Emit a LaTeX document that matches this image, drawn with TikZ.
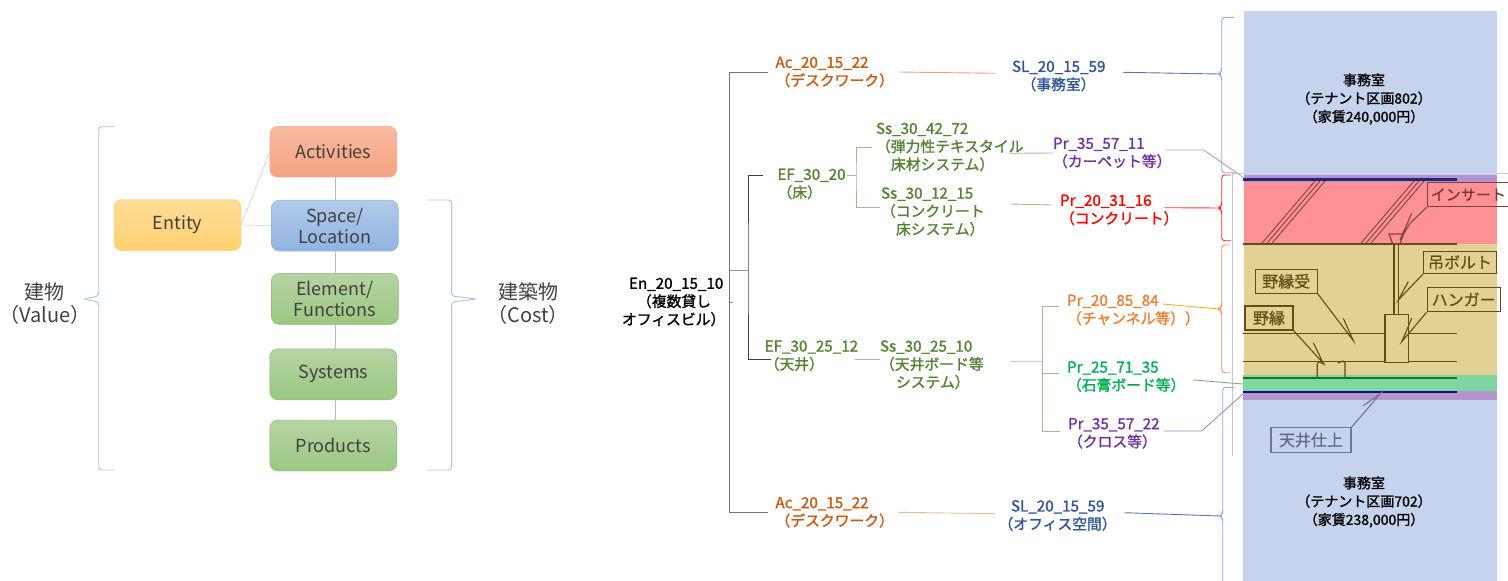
\documentclass[tikz,border=0pt]{standalone}
\usepackage{fontspec}
\setmainfont{Noto Sans CJK JP}
\newfontfamily\treefont[FakeBold=1.4]{Noto Sans CJK JP}
\newfontfamily\planfont[FakeBold=0.6]{Noto Sans CJK JP}
\usepackage{tikz}
\definecolor{acC}{HTML}{C55A11}
\definecolor{slC}{HTML}{2F5597}
\definecolor{efC}{HTML}{548235}
\definecolor{prP}{HTML}{7030A0}
\definecolor{prO}{HTML}{ED7D31}
\definecolor{prG}{HTML}{00B050}
\definecolor{planC}{HTML}{5F4E18}
\definecolor{redTop}{HTML}{F8BBA2}
\definecolor{redBot}{HTML}{F5A27F}
\definecolor{yelTop}{HTML}{FFDB96}
\definecolor{yelBot}{HTML}{FFD270}
\definecolor{bluTop}{HTML}{B1C9E9}
\definecolor{bluBot}{HTML}{8FB4E0}
\definecolor{grnTop}{HTML}{B5D4A3}
\definecolor{grnBot}{HTML}{9BC882}
\definecolor{braceC}{HTML}{ABC0DE}
\definecolor{joinC}{HTML}{A9C0DC}
\definecolor{tipC}{HTML}{8FAADC}
\newcommand{\idt}[1]{{\fontsize{15.2}{18}\selectfont #1}}
\newcommand{\roomBrace}[7]{\draw[rounded corners=3pt,line width=.9pt,#1](#7,#4)--(#2,#4)--(#2,#5-3)--(#3,#5)--(#2,#5+3)--(#2,#6)--(#7,#6);}
\tikzset{
    kindbox/.style={rounded corners=8pt, minimum width=127pt, minimum height=51pt, inner sep=0pt, align=center, text=black!75, font=\fontsize{18}{21}\selectfont},
    redbox/.style={kindbox, draw=redBot!85, top color=redTop, bottom color=redBot},
    yelbox/.style={kindbox, draw=yelBot!90!orange, top color=yelTop, bottom color=yelBot},
    blubox/.style={kindbox, draw=bluBot, top color=bluTop, bottom color=bluBot},
    grnbox/.style={kindbox, draw=grnBot!90!black, top color=grnTop, bottom color=grnBot},
    bigtext/.style={align=center, text=black!75, font=\fontsize{20}{23}\selectfont},
    lbl/.style={anchor=west, xshift=-8pt, align=left, inner sep=0pt, outer sep=8pt, font=\treefont\fontsize{14.8}{18}\selectfont},
    roomtext/.style={align=center, inner sep=0pt, font=\treefont\fontsize{14}{18.3}\selectfont},
    planbox/.style={draw=planC, line width=1.2pt, text=planC, inner sep=0pt, font=\planfont\fontsize{16}{18}\selectfont},
    planline/.style={draw=planC, line width=1.2pt},
    lead/.style={draw=planC, line width=1.1pt},
    treeline/.style={line width=.9pt}
}

\begin{document}
\begin{tikzpicture}[x=1pt, y=-1pt]
    \useasboundingbox(0, 0) rectangle (1508, 581);
    % left side
    \node[yelbox](entity) at (177.5, 225){\raisebox{-1pt}{Entity}};
    \node[redbox](activities) at (333.3, 151.7){\raisebox{1pt}{Activities}};
    \node[blubox](space) at (334.8, 225.6){Space/\\Location};
    \node[grnbox](element) at (334.8, 298.8){Element/\\Functions};
    \node[grnbox](systems) at (333.3, 374.3){Systems};
    \node[grnbox](products) at (333.3, 445.5){Products};
    \draw[joinC](entity.east)--(activities.west);
    \draw[joinC](entity.east)--(space.west);
    \draw[joinC](space.north)--(space.north|-activities.south);
    \draw[joinC](space.south)--(element.north);
    \draw[joinC](element.south)--(element.south|-systems.north);
    \draw[joinC]([xshift=1.5pt]systems.south)--([xshift=1.5pt]products.north);
    \roomBrace{braceC}{98.7}{83.4}{126.7}{299}{470}{115}
    \roomBrace{braceC}{451.6}{476.8}{200}{299}{470}{426.7}
    \node[bigtext](building) at (45, 303.5){建物\\（Value）};
    \node[bigtext](structure) at (528, 303.5){建築物\\（Cost）};

    % section at the right
    \draw[black!22](1231.7, 455.7)--(1231.7, 173)--(1508, 173);
    \foreach \top/\bot/\col/\lft in {11/175/C5D3EC/1244, 175/182/B295CE/1244, 182/243.5/FF9095/1244, 243.5/375/E3D194/1244, 375/391/7FD6A0/1243, 391/400/B496CE/1243, 400/581/C5D3EC/1243}
        {\definecolor{bandC}{HTML}{\col}\fill[bandC](\lft, \top) rectangle (1496.7, \bot);}
    \foreach \dx in {0, 5, 10, 99, 104, 109}
        \draw[planline, draw=red!35!black!75, line width=.9pt](1261.7+\dx, 243.5)--(1315+\dx, 181);
    \draw[line width=2.4pt, blue!35!black!85](1243, 179.3)--(1456.7, 179.3);
    \draw[line width=2pt, planC](1243, 244.3)--(1456.7, 244.3);
    \draw[planline](1243, 333.3)--(1385, 333.3)(1408.3, 333.3)--(1456.7, 333.3);
    \draw[planline](1243, 361.3)--(1385, 361.3)(1408.3, 361.3)--(1456.7, 361.3);
    \draw[planline](1394, 244)--(1394, 314.3)(1398.3, 244)--(1398.3, 314.3);
    \draw[planline](1385, 314.3) rectangle (1408.3, 362.3);
    \draw[planline, draw=red!35!black!75](1389, 234)--(1403.3, 234)--(1400, 244)--(1392.7, 244)--cycle;
    \draw[planline, line cap=round](1324, 364)--(1319, 361.7)--(1317.3, 364)--(1317.3, 377)(1345, 377)--(1345, 363)--(1343, 361)--(1338, 363);
    \draw[line width=2pt, green!40!black!90](1243, 377.7)--(1456.7, 377.7);
    \draw[line width=2.2pt, blue!50!black!95](1243, 392)--(1456.7, 392);

    \node[planbox, draw=red!35!black!75, text=red!35!black!80, font=\planfont\fontsize{15}{18}\selectfont, minimum width=82pt, minimum height=24pt](insert) at (1468.3, 194.7){インサート};
    \node[planbox, minimum width=73pt, minimum height=22pt](bolt) at (1460, 262.5){吊ボルト};
    \node[planbox, minimum width=62pt, minimum height=24pt](receiver) at (1286.2, 281.3){野縁受};
    \node[planbox, minimum width=73pt, minimum height=24.4pt](hanger) at (1463.7, 299.5){ハンガー};
    \node[planbox, minimum width=48pt, minimum height=24pt](furring) at (1268.9, 318){野縁};
    \node[planbox, draw=blue!25!black!55, text=blue!25!black!60, minimum width=80pt, minimum height=24.6pt](finish) at (1311, 440){天井仕上};
    \coordinate(insertTip) at (1400, 240);
    \coordinate(boltTip) at (1398.3, 300);
    \coordinate(receiverTip) at (1353.3, 340.7);
    \coordinate(hangerTip) at (1401.7, 341.7);
    \coordinate(furringTip) at (1323.3, 363.3);
    \coordinate(finishTip) at (1380.7, 393.3);
    \draw[lead, draw=red!35!black!75](insert.south west)--(1410, 223.3)--(insertTip)--++(11.7, -26.7);
    \draw[lead](bolt.south west)--(boltTip)--++(10, -18.3);
    \draw[lead](receiver.south east)--(receiverTip)--++(-10, -22.4);
    \draw[lead](hanger.south west)--(hangerTip)--++(10, -23.4);
    \draw[lead](furring.south east)--(furringTip)--++(-10, -20.6);
    \draw[lead, draw=blue!25!black!55](finish.north east)--(finishTip)--++(-17.4, 12.4);

    \node[roomtext](officeUp) at (1364, 99){事務室\\（テナント区画802）\\（家賃240,000円）};
    \node[roomtext](officeDown) at (1364, 502){事務室\\（テナント区画702）\\（家賃238,000円）};

    % tree labels
    \node[lbl](enLabel) at (622, 302){\hspace*{7pt}\idt{En\_20\_15\_10}\\\hspace*{15pt}（複数貸し\\オフィスビル）};
    \node[lbl, text=acC](acUp) at (775.5, 72){\idt{Ac\_20\_15\_22}\\（デスクワーク）};
    \node[lbl, text=slC](slUp) at (1012, 76){\idt{SL\_20\_15\_59}\\\hspace*{9.5pt}（事務室）};
    \node[lbl, text=efC](efFloor) at (777.5, 184){\idt{EF\_30\_20}\\（床）};
    \node[lbl, text=efC](ssFabric) at (876, 147){\idt{Ss\_30\_42\_72}\\（弾力性テキスタイル\\\hspace*{15pt}床材システム）};
    \node[lbl, text=efC](ssSlab) at (881, 211.7){\idt{Ss\_30\_12\_15}\\（コンクリート\\\hspace*{15pt}床システム）};
    \node[lbl, text=prP](prCarpet) at (1053, 153){\idt{Pr\_35\_57\_11}\\（カーペット等）};
    \node[lbl, text=red](prSlab) at (1060, 210){\idt{Pr\_20\_31\_16}\\（コンクリート）};
    \node[lbl, text=efC](efCeil) at (764.7, 355.7){\idt{EF\_30\_25\_12}\\（天井）};
    \node[lbl, text=efC](ssCeil) at (880, 364.7){\idt{Ss\_30\_25\_10}\\（天井ボード等\\\hspace*{16pt}システム）};
    \node[lbl, text=prO](prChannel) at (1067, 310){\idt{Pr\_20\_85\_84}\\（チャンネル等））};
    \node[lbl, text=prG](prBoard) at (1067, 376.7){\idt{Pr\_25\_71\_35}\\（石膏ボード等）};
    \node[lbl, text=prP](prCloth) at (1068, 433.3){\idt{Pr\_35\_57\_22}\\（クロス等）};
    \node[lbl, text=acC](acDown) at (775.5, 512.3){\idt{Ac\_20\_15\_22}\\（デスクワーク）};
    \node[lbl, text=slC](slDown) at (998.5, 515.5){\hspace*{12.5pt}\idt{SL\_20\_15\_59}\\（オフィス空間）};

    % tree lines
    \coordinate(trunkA) at (729.7, 270);
    \coordinate(trunkB) at (748, 270);
    \coordinate(trunkC) at (856, 175);
    \coordinate(trunkD) at (1042, 361.3);
    \coordinate(tipOffice) at (1219, 74);
    \coordinate(tipSlab) at (1219, 208);
    \coordinate(tipCeil) at (1219, 309);
    \coordinate(tipLower) at (1220, 516);
    \coordinate(slabTop) at (1244, 178);
    \coordinate(boardEdge) at (1243, 384);
    \coordinate(slabBottom) at (1244, 393);
    \draw[black!55, treeline](acUp.west)-|(trunkA)|-(acDown.west);
    \draw[black!40](enLabel.east)--(enLabel.east-|trunkA);
    \draw[black!40](trunkA)--(trunkB);
    \draw[black!75, treeline]([xshift=-7pt, yshift=9pt]efFloor.west)-|(trunkB)|-([xshift=14pt, yshift=-3.6pt]efCeil.west);
    \draw[acC!55, treeline]([xshift=-3pt]acUp.east)--([xshift=-9pt, yshift=2.7pt]slUp.west);
    \draw[acC!40, treeline]([xshift=-3pt]acDown.east)--([xshift=4.5pt, yshift=1.8pt]slDown.west);
    \draw[slC!80, treeline]([xshift=10pt, yshift=3.7pt]slUp.east)--(tipOffice);
    \draw[slC!80, treeline]([yshift=2.8pt]slDown.east)--(tipLower);
    \draw[efC!55, treeline]([xshift=-7pt, yshift=9pt]efFloor.east)--(trunkC);
    \draw[efC!55, treeline]([xshift=4pt]ssFabric.west)-|(trunkC)|-([xshift=7pt, yshift=4pt]ssSlab.west);
    \draw[efC!55, treeline]([xshift=-22pt, yshift=-6.3pt]ssFabric.east)--([xshift=8pt]prCarpet.west);
    \draw[efC!55, treeline]([xshift=18pt, yshift=7.7pt]ssSlab.east)--([yshift=5pt]prSlab.west);
    \draw[efC!55, treeline]([xshift=-11pt, yshift=-3.6pt]efCeil.east)--([xshift=8pt, yshift=5.4pt]ssCeil.west);
    \draw[efC!35, treeline]([xshift=18pt, yshift=3.4pt]ssCeil.east)--(trunkD);
    \draw[efC!55, treeline]([yshift=4pt]prChannel.west)-|(trunkD)|-([yshift=2.3pt]prCloth.west);
    \draw[efC!55, treeline]([yshift=3.7pt]prBoard.west)-|(trunkD);
    \draw[prP!50, treeline]([xshift=-13pt, yshift=3pt]prCarpet.east)--++(37.4, 0)--(slabTop);
    \draw[red!80, treeline]([xshift=-22pt, yshift=2.3pt]prSlab.east)--(tipSlab);
    \draw[prO!60!yellow, treeline]([xshift=-45pt, yshift=6pt]prChannel.east)--(tipCeil);
    \draw[efC!70, treeline]([yshift=-3.3pt]prBoard.east)--(boardEdge);
    \draw[prP!60, treeline]([xshift=-4pt, yshift=2.3pt]prCloth.east)--++(38, 0)--(slabBottom);
    \roomBrace{tipC}{1221.7}{1219}{17.3}{74}{172.7}{1234}
    \roomBrace{red!85}{1221.7}{1219}{175}{208}{240.7}{1231}
    \roomBrace{prO!85}{1221.7}{1219}{245}{309}{372.7}{1230}
    \roomBrace{tipC}{1222.7}{1220}{387.3}{516}{600}{1234}
\end{tikzpicture}
\end{document}
